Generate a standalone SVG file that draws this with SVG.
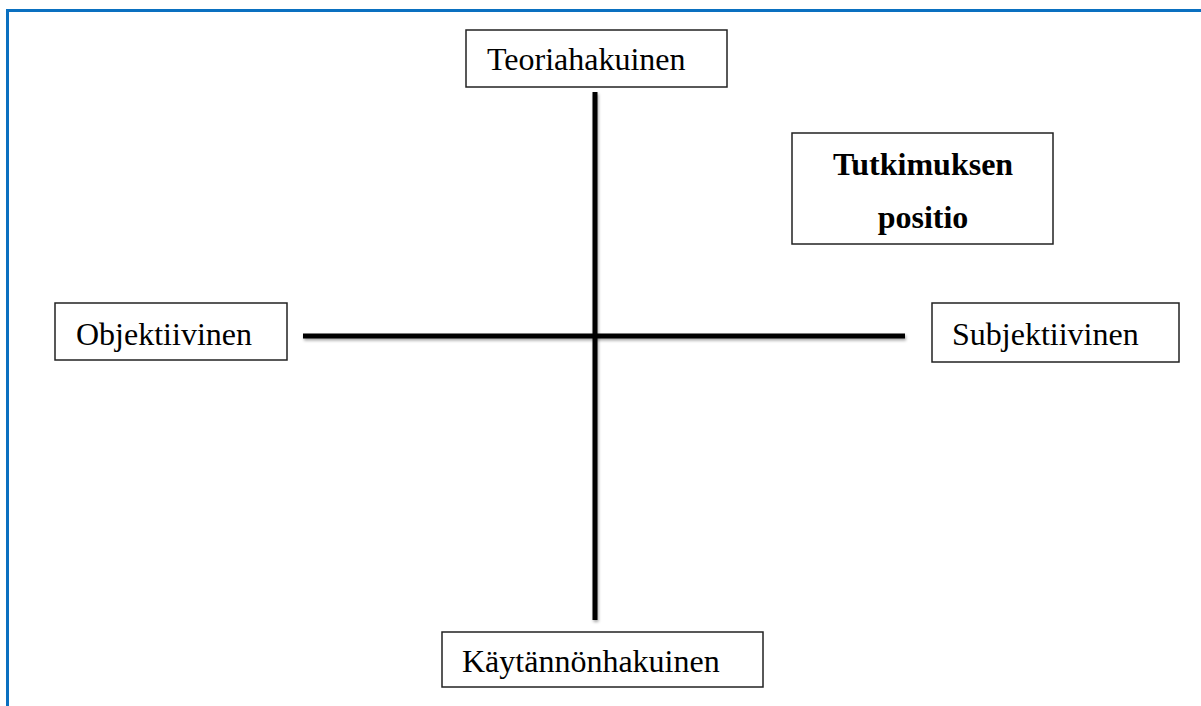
<svg xmlns="http://www.w3.org/2000/svg" width="1201" height="706" viewBox="0 0 1201 706">
<defs>
<style>
.box{fill:#fff;stroke:#222;stroke-width:1.5}
.t{font-family:"Liberation Serif","Times New Roman",serif;font-size:32px;fill:#000}
.b{font-weight:bold;text-anchor:middle}
.ax{stroke:#000;stroke-width:5;fill:none;filter:url(#sh)}
</style>
<filter id="sh" filterUnits="userSpaceOnUse" x="0" y="0" width="1201" height="706">
<feGaussianBlur in="SourceAlpha" stdDeviation="1.5"/>
<feOffset dx="1" dy="2"/>
<feComponentTransfer><feFuncA type="linear" slope="0.35"/></feComponentTransfer>
<feMerge><feMergeNode/><feMergeNode in="SourceGraphic"/></feMerge>
</filter>
</defs>
<rect width="1201" height="706" fill="#fff"/>
<path d="M7.5 706 V10.5 H1201" fill="none" stroke="#0a70c0" stroke-width="3"/>
<g id="connectors">
<line class="ax" x1="595" y1="92" x2="595" y2="620"/>
<line class="ax" x1="303" y1="336" x2="905" y2="336"/>
</g>
<g id="teoriahakuinen">
<rect class="box" x="466" y="30" width="261" height="57"/>
<text class="t" x="487" y="70">Teoriahakuinen</text>
</g>
<g id="tutkimuksen-positio">
<rect class="box" x="792" y="133" width="261" height="111"/>
<text class="t b" x="923" y="175">Tutkimuksen</text>
<text class="t b" x="923" y="228">positio</text>
</g>
<g id="objektiivinen">
<rect class="box" x="55" y="303" width="232" height="57"/>
<text class="t" x="76" y="345">Objektiivinen</text>
</g>
<g id="subjektiivinen">
<rect class="box" x="932" y="303" width="247" height="59"/>
<text class="t" x="952" y="345">Subjektiivinen</text>
</g>
<g id="kaytannonhakuinen">
<rect class="box" x="442" y="632" width="321" height="55"/>
<text class="t" x="462" y="672">Käytännönhakuinen</text>
</g>
</svg>
